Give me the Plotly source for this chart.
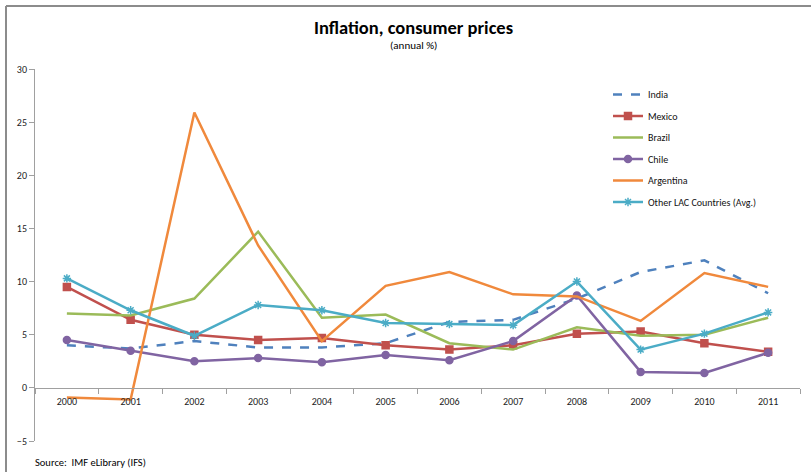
import plotly.graph_objects as go

years = [str(y) for y in range(2000, 2012)]
india = [4.0, 3.7, 4.4, 3.8, 3.8, 4.2, 6.2, 6.4, 8.4, 10.9, 12.0, 8.9]
mexico = [9.5, 6.4, 5.0, 4.5, 4.7, 4.0, 3.6, 4.0, 5.1, 5.3, 4.2, 3.4]
brazil = [7.0, 6.8, 8.4, 14.7, 6.6, 6.9, 4.2, 3.6, 5.7, 4.9, 5.0, 6.6]
chile = [4.5, 3.5, 2.5, 2.8, 2.4, 3.1, 2.6, 4.4, 8.7, 1.5, 1.4, 3.3]
argentina = [-0.9, -1.1, 25.9, 13.4, 4.4, 9.6, 10.9, 8.8, 8.6, 6.3, 10.8, 9.5]
other_lac = [10.3, 7.3, 4.9, 7.8, 7.3, 6.1, 6.0, 5.9, 10.0, 3.6, 5.1, 7.1]

FONT = "Carlito, Liberation Sans Narrow, Liberation Sans, sans-serif"

series = [
    ("India", india, "#4F81BD", "dash", None),
    ("Mexico", mexico, "#C0504D", "solid", "square"),
    ("Brazil", brazil, "#9BBB59", "solid", None),
    ("Chile", chile, "#8064A2", "solid", "circle"),
    ("Argentina", argentina, "#F0893C", "solid", None),
    ("Other LAC Countries (Avg.)", other_lac, "#4BACC6", "solid", "asterisk"),
]

fig = go.Figure()
for i, (name, vals, color, dash, sym) in enumerate(series):
    mode = "lines+markers" if sym else "lines"
    marker = dict(symbol=sym, size=7, color=color, line=dict(color=color, width=1.5)) if sym else None
    fig.add_trace(go.Scatter(
        x=years, y=vals, name=name, mode=mode,
        line=dict(color=color, width=2.5, dash=dash),
        marker=marker, legendgroup=f"g{i}",
    ))

L, R, T, B = 35, 11, 69, 31
W, H = 811, 472
pw = W - L - R
ph = H - T - B

def px_x(px):
    return (px - L) / pw

def px_y(py):
    return (H - B - py) / ph

fig.update_layout(
    width=W, height=H,
    margin=dict(l=L, r=R, t=T, b=B),
    paper_bgcolor="white", plot_bgcolor="white",
    font=dict(family=FONT, size=10, color="#222222"),
    showlegend=True,
    legend=dict(
        x=px_x(608), y=px_y(80), xanchor="left", yanchor="top",
        font=dict(family=FONT, size=10, color="#111111"),
        traceorder="grouped", tracegroupgap=2.5,
        bgcolor="rgba(0,0,0,0)", itemwidth=30,
    ),
    xaxis=dict(
        type="category", anchor="free", position=5 / 35,
        showline=True, linecolor="#A0A0A0", linewidth=1,
        ticks="outside", ticklen=5, tickcolor="#A0A0A0", tickson="boundaries",
        showgrid=False, zeroline=False, ticklabelstandoff=4,
        tickfont=dict(family=FONT, size=10, color="#222222"),
        range=[-0.5, 11.5],
    ),
    yaxis=dict(
        range=[-5, 30], dtick=5, tick0=0,
        showline=True, linecolor="#A0A0A0", linewidth=1,
        ticks="outside", ticklen=5, tickcolor="#A0A0A0",
        showgrid=False, zeroline=False,
        tickfont=dict(family=FONT, size=10, color="#222222"),
    ),
    annotations=[
        dict(text="<b>Inflation, consumer prices</b>", x=px_x(413), y=px_y(27),
             xref="paper", yref="paper", showarrow=False, yanchor="middle",
             font=dict(family=FONT, size=18.5, color="#000000")),
        dict(text="(annual %)", x=px_x(413), y=px_y(45),
             xref="paper", yref="paper", showarrow=False, yanchor="middle",
             font=dict(family=FONT, size=11, color="#000000")),
        dict(text="Source:  IMF eLibrary (IFS)", x=px_x(33), y=px_y(462),
             xref="paper", yref="paper", showarrow=False, xanchor="left", yanchor="middle",
             font=dict(family=FONT, size=10.5, color="#000000")),
    ],
    shapes=[
        dict(type="line", xref="paper", yref="paper",
             x0=px_x(6), x1=px_x(820), y0=px_y(6), y1=px_y(6),
             line=dict(color="#8C8C8C", width=2)),
        dict(type="line", xref="paper", yref="paper",
             x0=px_x(6), x1=px_x(6), y0=px_y(6), y1=px_y(480),
             line=dict(color="#8C8C8C", width=2)),
    ],
)

fig.write_html("out.html", config={"displayModeBar": False},
               post_script="document.body.style.margin='0';document.body.style.overflow='hidden';")
